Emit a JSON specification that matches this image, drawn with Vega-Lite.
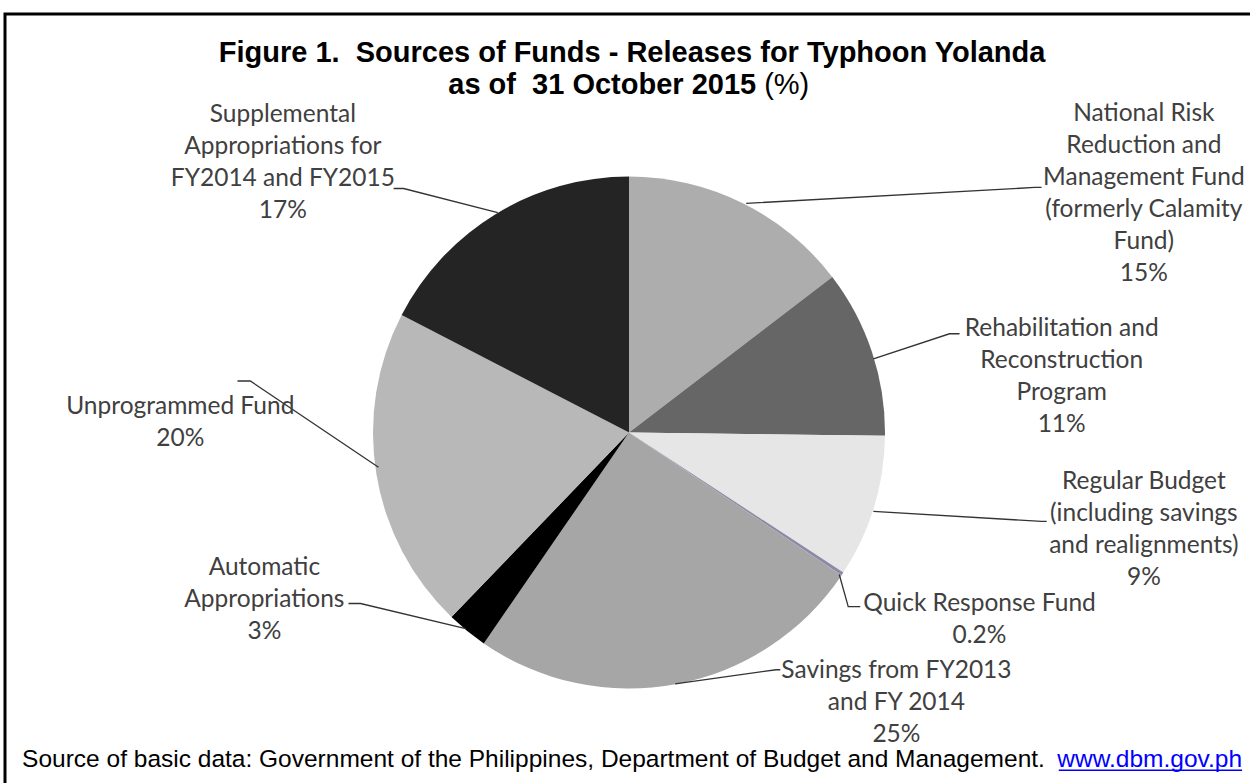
{
  "$schema": "https://vega.github.io/schema/vega-lite/v6.json",
  "width": 1250,
  "height": 783,
  "autosize": {"type": "fit", "contains": "padding"},
  "padding": {"left": 5, "top": 14, "right": -5, "bottom": -5},
  "background": "white",
  "config": {"view": {"stroke": "#000000", "strokeWidth": 3}},
  "datasets": {
    "slices": [
      {"category": "National Risk Reduction and Management Fund", "value": 14.6, "order": 1},
      {"category": "Rehabilitation and Reconstruction Program", "value": 10.6, "order": 2},
      {"category": "Regular Budget", "value": 9.0, "order": 3},
      {"category": "Quick Response Fund", "value": 0.2, "order": 4},
      {"category": "Savings from FY2013 and FY 2014", "value": 25.2, "order": 5},
      {"category": "Automatic Appropriations", "value": 2.6, "order": 6},
      {"category": "Unprogrammed Fund", "value": 20.4, "order": 7},
      {"category": "Supplemental Appropriations", "value": 17.4, "order": 8}
    ],
    "labels": [
      {"key": "nr", "lines": ["National Risk", "Reduction and", "Management Fund", "(formerly Calamity", "Fund)", "15%"], "x": 200.8, "y": 121.3},
      {"key": "rr", "lines": ["Rehabilitation and", "Reconstruction", "Program", "11%"], "x": 168.75, "y": 37.7},
      {"key": "rb", "lines": ["Regular Budget", "(including savings", "and realignments)", "9%"], "x": 200.8, "y": -22.1},
      {"key": "qr", "lines": ["Quick Response Fund", "0.2%"], "x": 136.7, "y": -69.7},
      {"key": "sv", "lines": ["Savings from FY2013", "and FY 2014", "25%"], "x": 104.3, "y": -95.5},
      {"key": "aa", "lines": ["Automatic", "Appropriations", "3%"], "x": -142.2, "y": -55.3},
      {"key": "uf", "lines": ["Unprogrammed Fund", "20%"], "x": -175.0, "y": 7.2},
      {"key": "sa", "lines": ["Supplemental", "Appropriations for", "FY2014 and FY2015", "17%"], "x": -135.0, "y": 120.9}
    ],
    "leaders": [
      {"id": "sa", "seq": 1, "x": -91.8, "y": 95.1},
      {"id": "sa", "seq": 2, "x": -87.9, "y": 95.1},
      {"id": "sa", "seq": 3, "x": -51.2, "y": 85.7},
      {"id": "nr", "seq": 1, "x": 45.7, "y": 89.3},
      {"id": "nr", "seq": 2, "x": 158.2, "y": 95.5},
      {"id": "nr", "seq": 3, "x": 160.9, "y": 95.5},
      {"id": "rr", "seq": 1, "x": 95.3, "y": 28.7},
      {"id": "rr", "seq": 2, "x": 125.0, "y": 38.5},
      {"id": "rr", "seq": 3, "x": 128.9, "y": 38.5},
      {"id": "rb", "seq": 1, "x": 95.3, "y": -30.7},
      {"id": "rb", "seq": 2, "x": 160.9, "y": -34.6},
      {"id": "rb", "seq": 3, "x": 162.9, "y": -34.6},
      {"id": "qr", "seq": 1, "x": 82.0, "y": -55.3},
      {"id": "qr", "seq": 2, "x": 85.5, "y": -67.8},
      {"id": "qr", "seq": 3, "x": 90.2, "y": -67.8},
      {"id": "sv", "seq": 1, "x": 18.0, "y": -97.9},
      {"id": "sv", "seq": 2, "x": 57.4, "y": -92.4},
      {"id": "sv", "seq": 3, "x": 59.0, "y": -92.4},
      {"id": "aa", "seq": 1, "x": -109.4, "y": -66.6},
      {"id": "aa", "seq": 2, "x": -104.7, "y": -66.6},
      {"id": "aa", "seq": 3, "x": -63.7, "y": -76.4},
      {"id": "uf", "seq": 1, "x": -152.7, "y": 20.1},
      {"id": "uf", "seq": 2, "x": -147.7, "y": 20.1},
      {"id": "uf", "seq": 3, "x": -97.7, "y": -13.5}
    ]
  },
  "layer": [
    {
      "data": {"name": "slices"},
      "mark": {"type": "arc", "outerRadius": 256, "strokeWidth": 0},
      "encoding": {
        "theta": {"field": "value", "type": "quantitative", "stack": true},
        "order": {"field": "order", "type": "quantitative"},
        "color": {
          "field": "category",
          "type": "nominal",
          "legend": null,
          "scale": {
            "domain": ["National Risk Reduction and Management Fund", "Rehabilitation and Reconstruction Program", "Regular Budget", "Quick Response Fund", "Savings from FY2013 and FY 2014", "Automatic Appropriations", "Unprogrammed Fund", "Supplemental Appropriations"],
            "range": ["#adadad", "#666666", "#e6e6e6", "#8c89a6", "#a6a6a6", "#000000", "#b8b8b8", "#242424"]
          }
        },
        "x": {"datum": 0, "type": "quantitative", "scale": {"domain": [-243.36, 244.14], "nice": false, "zero": false}, "axis": null},
        "y": {"datum": 0, "type": "quantitative", "scale": {"domain": [-138.48, 163.09], "nice": false, "zero": false}, "axis": null}
      }
    },
    {
      "data": {"name": "leaders"},
      "mark": {"type": "line", "stroke": "#333333", "strokeWidth": 1.3, "interpolate": "linear"},
      "encoding": {
        "x": {"field": "x", "type": "quantitative", "scale": {"domain": [-243.36, 244.14], "nice": false, "zero": false}, "axis": null},
        "y": {"field": "y", "type": "quantitative", "scale": {"domain": [-138.48, 163.09], "nice": false, "zero": false}, "axis": null},
        "detail": {"field": "id", "type": "nominal"},
        "order": {"field": "seq", "type": "quantitative"}
      }
    },
    {
      "data": {"name": "labels"},
      "mark": {"type": "text", "font": "Lato", "fontSize": 24.5, "lineHeight": 32, "align": "center", "baseline": "alphabetic", "fill": "#404040"},
      "encoding": {
        "x": {"field": "x", "type": "quantitative", "scale": {"domain": [-243.36, 244.14], "nice": false, "zero": false}, "axis": null},
        "y": {"field": "y", "type": "quantitative", "scale": {"domain": [-138.48, 163.09], "nice": false, "zero": false}, "axis": null},
        "text": {"field": "lines"}
      }
    },
    {
      "data": {"values": [{"text": "Figure 1.\u00a0 Sources of Funds - Releases for Typhoon Yolanda", "x": 1.2, "y": 144.3}]},
      "mark": {"type": "text", "font": "Liberation Sans", "fontWeight": "bold", "fontSize": 29, "align": "center", "baseline": "alphabetic", "fill": "#000000"},
      "encoding": {
        "x": {"field": "x", "type": "quantitative", "scale": {"domain": [-243.36, 244.14], "nice": false, "zero": false}, "axis": null},
        "y": {"field": "y", "type": "quantitative", "scale": {"domain": [-138.48, 163.09], "nice": false, "zero": false}, "axis": null},
        "text": {"field": "text"}
      }
    },
    {
      "data": {"values": [{"text": "as of\u00a0 31 October 2015", "x": 49.6, "y": 131.8}]},
      "mark": {"type": "text", "font": "Liberation Sans", "fontWeight": "bold", "fontSize": 29, "align": "right", "baseline": "alphabetic", "fill": "#000000"},
      "encoding": {
        "x": {"field": "x", "type": "quantitative", "scale": {"domain": [-243.36, 244.14], "nice": false, "zero": false}, "axis": null},
        "y": {"field": "y", "type": "quantitative", "scale": {"domain": [-138.48, 163.09], "nice": false, "zero": false}, "axis": null},
        "text": {"field": "text"}
      }
    },
    {
      "data": {"values": [{"text": "(%)", "x": 52.7, "y": 131.8}]},
      "mark": {"type": "text", "font": "Liberation Sans", "fontWeight": "normal", "fontSize": 29, "align": "left", "baseline": "alphabetic", "fill": "#000000"},
      "encoding": {
        "x": {"field": "x", "type": "quantitative", "scale": {"domain": [-243.36, 244.14], "nice": false, "zero": false}, "axis": null},
        "y": {"field": "y", "type": "quantitative", "scale": {"domain": [-138.48, 163.09], "nice": false, "zero": false}, "axis": null},
        "text": {"field": "text"}
      }
    },
    {
      "data": {"values": [{"text": "Source of basic data: Government of the Philippines, Department of Budget and Management.", "x": -236.7, "y": -130.3}]},
      "mark": {"type": "text", "font": "Liberation Sans", "fontSize": 24.5, "align": "left", "baseline": "alphabetic", "fill": "#000000"},
      "encoding": {
        "x": {"field": "x", "type": "quantitative", "scale": {"domain": [-243.36, 244.14], "nice": false, "zero": false}, "axis": null},
        "y": {"field": "y", "type": "quantitative", "scale": {"domain": [-138.48, 163.09], "nice": false, "zero": false}, "axis": null},
        "text": {"field": "text"}
      }
    },
    {
      "data": {"values": [{"text": "www.dbm.gov.ph", "x": 239.1, "y": -130.3}]},
      "mark": {"type": "text", "font": "Liberation Sans", "fontSize": 24.5, "align": "right", "baseline": "alphabetic", "fill": "#0000ff"},
      "encoding": {
        "x": {"field": "x", "type": "quantitative", "scale": {"domain": [-243.36, 244.14], "nice": false, "zero": false}, "axis": null},
        "y": {"field": "y", "type": "quantitative", "scale": {"domain": [-138.48, 163.09], "nice": false, "zero": false}, "axis": null},
        "text": {"field": "text"}
      }
    },
    {
      "data": {"values": [{"x": 167.6, "x2": 239.1, "y": -131.6}]},
      "mark": {"type": "rule", "stroke": "#0000ff", "strokeWidth": 1.5},
      "encoding": {
        "x": {"field": "x", "type": "quantitative", "scale": {"domain": [-243.36, 244.14], "nice": false, "zero": false}, "axis": null},
        "x2": {"field": "x2"},
        "y": {"field": "y", "type": "quantitative", "scale": {"domain": [-138.48, 163.09], "nice": false, "zero": false}, "axis": null}
      }
    }
  ]
}
